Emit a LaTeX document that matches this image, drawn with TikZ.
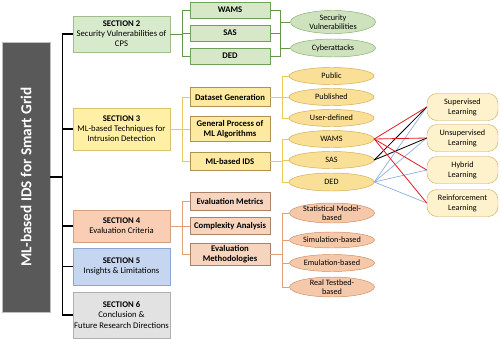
\documentclass[tikz,border=0pt]{standalone}
\usepackage{fontspec}
\setmainfont{Carlito}
\usetikzlibrary{arrows.meta, positioning, shapes.geometric, shadows, calc}
\definecolor{cinzaescuro}{RGB}{89, 89, 89}
\definecolor{s2fill}{RGB}{216, 234, 204}
\definecolor{s2draw}{RGB}{160, 190, 140}
\definecolor{s3fill}{RGB}{255, 240, 165}
\definecolor{s3draw}{RGB}{215, 195, 110}
\definecolor{s4fill}{RGB}{249, 206, 180}
\definecolor{s4draw}{RGB}{210, 160, 130}
\definecolor{s5fill}{RGB}{199, 214, 240}
\definecolor{s5draw}{RGB}{140, 165, 210}
\definecolor{s6fill}{RGB}{226, 226, 226}
\definecolor{s6draw}{RGB}{175, 175, 175}
\definecolor{gsubfill}{RGB}{214, 232, 200}
\definecolor{gsubdraw}{RGB}{110, 160, 90}
\definecolor{gleaffill}{RGB}{206, 226, 190}
\definecolor{gleafdraw}{RGB}{130, 175, 105}
\definecolor{ysubfill}{RGB}{253, 234, 160}
\definecolor{ysubdraw}{RGB}{175, 145, 80}
\definecolor{yleaffill}{RGB}{250, 224, 150}
\definecolor{yleafdraw}{RGB}{210, 170, 80}
\definecolor{osubfill}{RGB}{246, 212, 190}
\definecolor{osubdraw}{RGB}{170, 130, 105}
\definecolor{oleaffill}{RGB}{246, 200, 170}
\definecolor{oleafdraw}{RGB}{205, 140, 100}
\definecolor{lrnfill}{RGB}{254, 242, 204}
\definecolor{lrndraw}{RGB}{205, 170, 90}
\definecolor{verdelinha}{RGB}{100, 150, 70}
\definecolor{amarelolinha}{RGB}{235, 200, 90}
\definecolor{laranjalinha}{RGB}{225, 160, 120}
\definecolor{vermelholinha}{RGB}{225, 30, 40}
\definecolor{azullinha}{RGB}{140, 175, 220}

\begin{document}
\begin{tikzpicture}[
    x=0.03cm, y=-0.03cm,
    font=\fontsize{7.4}{8.6}\selectfont,
    secbox/.style={draw=#1draw, fill=#1fill, minimum width=2.91cm, align=center, inner sep=1pt,
        drop shadow={shadow xshift=0.7pt, shadow yshift=-0.7pt, opacity=0.3}},
    subbox/.style={draw=#1subdraw, fill=#1subfill, minimum width=2.4cm, align=center, inner sep=1pt,
        font=\fontsize{7.4}{8.4}\selectfont\bfseries,
        drop shadow={shadow xshift=0.6pt, shadow yshift=-0.6pt, opacity=0.3}},
    leaf/.style={ellipse, draw=#1leafdraw, fill=#1leaffill, minimum width=2.55cm, align=center,
        inner xsep=0pt, inner ysep=-1.5pt, font=\fontsize{7}{7.8}\selectfont},
    lrnbox/.style={draw=lrndraw, fill=lrnfill, rounded corners=0.3cm, minimum width=2.13cm,
        minimum height=0.81cm, align=center, font=\fontsize{7}{8.4}\selectfont},
    trunk/.style={line width=0.9pt},
    gline/.style={verdelinha, line width=0.8pt},
    yline/.style={amarelolinha, line width=0.6pt},
    oline/.style={laranjalinha, line width=0.6pt},
    redl/.style={vermelholinha, line width=0.7pt},
    blkl/.style={black, line width=0.7pt},
    bluel/.style={azullinha, line width=0.6pt},
]
\useasboundingbox (0,0) rectangle (500,340);

% ── Título (caixa vertical) ──────────────────────────
\node[draw=gray!50, fill=cinzaescuro, minimum width=1.44cm, minimum height=8.1cm, text=white,
      font=\fontsize{13}{15}\selectfont\bfseries,
      drop shadow={shadow xshift=0.8pt, shadow yshift=-0.8pt, opacity=0.35}] (main) at (26,177)
      {\rotatebox{90}{ML-based IDS for Smart Grid}};

% ── Seções ───────────────────────────────────────────
\node[secbox=s2, minimum height=1.08cm] (s2) at (121.5,34)  {\textbf{SECTION 2}\\Security Vulnerabilities of\\CPS};
\node[secbox=s3, minimum height=1.26cm] (s3) at (121.5,129) {\textbf{SECTION 3}\\ML-based Techniques for\\Intrusion Detection};
\node[secbox=s4, minimum height=0.96cm] (s4) at (121.5,226) {\textbf{SECTION 4}\\Evaluation Criteria};
\node[secbox=s5, minimum height=1.11cm] (s5) at (121.5,266.5) {\textbf{SECTION 5}\\Insights \& Limitations};
\node[secbox=s6, minimum height=1.38cm] (s6) at (121.5,315) {\textbf{SECTION 6}\\Conclusion \&\\Future Research Directions};

\draw[trunk] (main.east) -- ++(12,0) coordinate (tr);
\foreach \s in {s2,s3,s4,s5,s6} \draw[trunk] (tr) |- (\s.west);

% ── Seção 2 ──────────────────────────────────────────
\node[subbox=g, minimum height=0.48cm] (wams) at (230,10) {WAMS};
\node[subbox=g, minimum height=0.48cm] (sas)  at (230,33) {SAS};
\node[subbox=g, minimum height=0.48cm] (ded)  at (230,56) {DED};
\node[leaf=g, minimum height=0.69cm] (secvul) at (333,22) {Security\\Vulnerabilities};
\node[leaf=g, minimum height=0.54cm] (cyber)  at (333,48) {Cyberattacks};

\draw[gline] (s2.east) -- ++(12,0) coordinate (j2);
\foreach \b in {wams,sas,ded} \draw[gline] (j2) |- (\b.west);
\coordinate (g2) at ($(sas.east)+(10,0)$);
\foreach \b in {wams,sas,ded} \draw[gline] (\b.east) -| (g2);
\draw[gline] (wams.east) -| (ded.east -| g2);
\foreach \e in {secvul,cyber} \draw[gline] (\e.west -| g2) -- (\e.west);

% ── Seção 3 ──────────────────────────────────────────
\node[subbox=y, minimum height=0.57cm] (dsg)   at (230,97)  {Dataset Generation};
\node[subbox=y, minimum height=0.75cm] (gpml)  at (230,129) {General Process of\\ML Algorithms};
\node[subbox=y, minimum height=0.54cm] (mlids) at (230,161) {ML-based IDS};
\node[leaf=y, minimum height=0.51cm] (pub)   at (331.5,76)  {Public};
\node[leaf=y, minimum height=0.51cm] (publ)  at (331.5,97)  {Published};
\node[leaf=y, minimum height=0.51cm] (udef)  at (331.5,118) {User-defined};
\node[leaf=y, minimum height=0.51cm] (ewams) at (331.5,139) {WAMS};
\node[leaf=y, minimum height=0.51cm] (esas)  at (331.5,160) {SAS};
\node[leaf=y, minimum height=0.54cm] (eded)  at (331.5,182) {DED};

\draw[yline] (s3.east) -- ++(12,0) coordinate (j3);
\foreach \b in {dsg,gpml,mlids} \draw[yline] (j3) |- (\b.west);
\draw[yline] (dsg.east) -- ++(12,0) coordinate (j3a);
\foreach \e in {pub,publ,udef} \draw[yline] (j3a) |- (\e.west);
\draw[yline] (mlids.east) -- ++(12,0) coordinate (j3b);
\foreach \e in {ewams,esas,eded} \draw[yline] (j3b) |- (\e.west);

% ── Seção 4 ──────────────────────────────────────────
\node[subbox=o, minimum height=0.54cm] (evm)    at (230,201) {Evaluation Metrics};
\node[subbox=o, minimum height=0.51cm] (cxa)    at (230,226) {Complexity Analysis};
\node[subbox=o, minimum height=0.66cm] (evmeth) at (230,254) {Evaluation\\Methodologies};
\node[leaf=o, minimum height=0.6cm]  (stat) at (332,213) {Statistical Model-\\based};
\node[leaf=o, minimum height=0.48cm] (sim)  at (332,240) {Simulation-based};
\node[leaf=o, minimum height=0.51cm] (emu)  at (332,263) {Emulation-based};
\node[leaf=o, minimum height=0.6cm]  (real) at (332,287) {Real Testbed-\\based};

\draw[oline] (s4.east) -- ++(12,0) coordinate (j4);
\foreach \b in {evm,cxa,evmeth} \draw[oline] (j4) |- (\b.west);
\draw[oline] (evmeth.east) -- ++(12,0) coordinate (j4a);
\foreach \e in {stat,sim,emu,real} \draw[oline] (j4a) |- (\e.west);

% ── Tipos de aprendizado ─────────────────────────────
\node[lrnbox] (sup)   at (462.5,107) {Supervised\\Learning};
\node[lrnbox] (unsup) at (462.5,138) {Unsupervised\\Learning};
\node[lrnbox] (hyb)   at (462.5,170) {Hybrid\\Learning};
\node[lrnbox] (reinf) at (462.5,203) {Reinforcement\\Learning};

\foreach \l in {sup,unsup,hyb,reinf} \draw[bluel] (eded.east) -- (\l.west);
\foreach \l in {sup,unsup} \draw[blkl] (esas.east) -- (\l.west);
\foreach \l in {sup,unsup,hyb,reinf} \draw[redl] (ewams.east) -- (\l.west);

\end{tikzpicture}
\end{document}
